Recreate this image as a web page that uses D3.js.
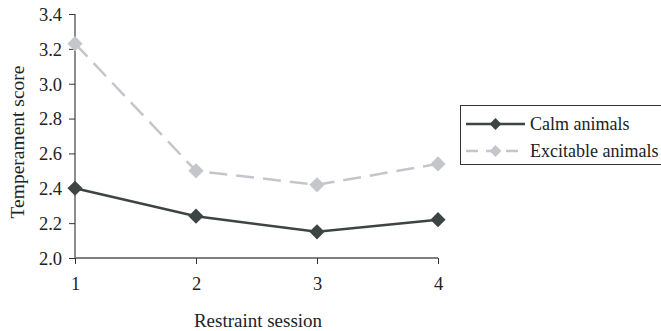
<!DOCTYPE html>
<html><head><meta charset="utf-8">
<script src="https://cdn.jsdelivr.net/npm/d3@7"></script>
<style>body{margin:0;background:#fff;overflow:hidden}svg{display:block}text{font-family:"Liberation Serif","DejaVu Serif",serif;fill:#222}</style>
</head><body><svg id="c" width="661" height="331"></svg>
<script>
const sessions = [1, 2, 3, 4];
const calm = [2.40, 2.24, 2.15, 2.22];
const excitable = [3.23, 2.50, 2.42, 2.54];
const yTicks = [2.0, 2.2, 2.4, 2.6, 2.8, 3.0, 3.2, 3.4];
const seriesNames = ["Calm animals", "Excitable animals"];

const FONT = '"Liberation Serif","DejaVu Serif",serif';
const svg = d3.select("#c");
const x = d3.scalePoint().domain(sessions).range([75, 438]);
const y = d3.scaleLinear().domain([2.0, 3.4]).range([258, 14]);
const axisCol = "#808080";

const ya = svg.append("g").attr("transform","translate(75,0)")
  .call(d3.axisLeft(y).tickValues(yTicks).tickFormat(d3.format(".1f")).tickSize(6).tickPadding(7));
const xa = svg.append("g").attr("transform","translate(0,258)")
  .call(d3.axisBottom(x).tickSize(6).tickPadding(13));
[ya, xa].forEach(a => {
  a.attr("font-family", FONT);
  a.select(".domain").attr("stroke", axisCol).attr("stroke-width", 1.8);
  a.selectAll(".tick line").attr("stroke", "#333").attr("stroke-width", 1);
  a.selectAll("text").style("font-family", FONT).style("font-size", "18.5px").attr("fill", "#222");
});
ya.selectAll("text").attr("dy", "0.34em");
ya.select(".domain").attr("d", "M0,14V258");
xa.select(".domain").attr("d", "M75,0H438");

svg.append("text").attr("transform","translate(24,142) rotate(-90)").attr("text-anchor","middle")
  .style("font-family", FONT).style("font-size","19.5px").text("Temperament score");
svg.append("text").attr("x",258).attr("y",327).attr("text-anchor","middle")
  .style("font-family", FONT).style("font-size","19px").text("Restraint session");

const line = d3.line().x((d,i)=>x(sessions[i])).y(d=>y(d));
const series = [
  {name: seriesNames[0], values: calm, color: "#3c4544", dash: null},
  {name: seriesNames[1], values: excitable, color: "#c4c6cb", dash: "18,9"}
];
series.slice().reverse().forEach(s => {
  svg.append("path").attr("d", line(s.values)).attr("fill","none")
    .attr("stroke", s.color).attr("stroke-width", 2.5).attr("stroke-dasharray", s.dash);
  svg.selectAll(null).data(s.values).enter().append("path")
    .attr("d", d3.symbol().type(d3.symbolSquare).size(115))
    .attr("transform",(d,i)=>`translate(${x(sessions[i])},${y(d)}) rotate(45)`)
    .attr("fill", s.color);
});

// legend
const lg = svg.append("g");
lg.append("rect").attr("x",460.5).attr("y",105.5).attr("width",215).attr("height",59)
  .attr("fill","#fff").attr("stroke","#333").attr("stroke-width",1);
series.forEach((s,i) => {
  const yy = 124 + i*27;
  lg.append("line").attr("x1",466).attr("x2",525).attr("y1",yy).attr("y2",yy)
    .attr("stroke", s.color).attr("stroke-width",2.5).attr("stroke-dasharray", s.dash ? "12,8" : null);
  lg.append("path").attr("d", d3.symbol().type(d3.symbolSquare).size(70))
    .attr("transform",`translate(495.5,${yy}) rotate(45)`).attr("fill", s.color);
  lg.append("text").attr("x",530).attr("y",yy+6).style("font-family", FONT).style("font-size","18px").text(s.name);
});
</script></body></html>
